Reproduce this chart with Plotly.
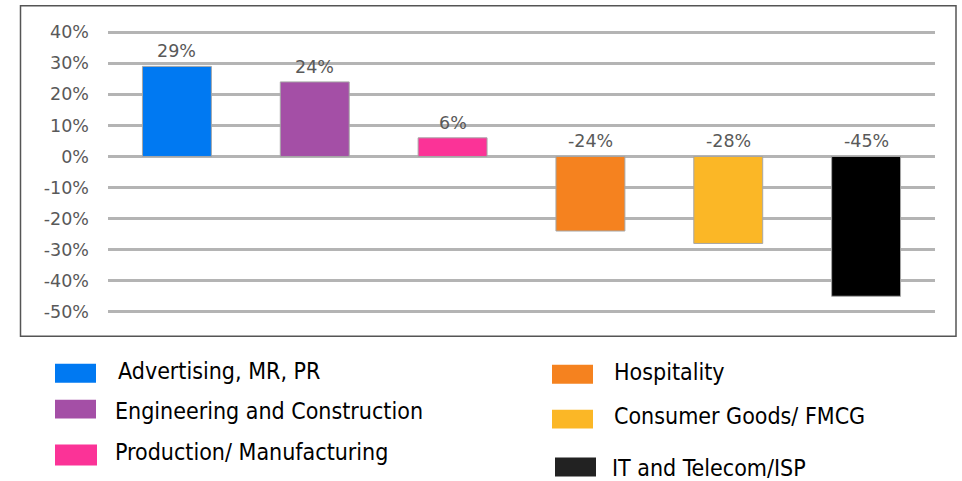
import plotly.graph_objects as go

categories = ["Advertising, MR, PR", "Engineering and Construction", "Production/ Manufacturing",
              "Hospitality", "Consumer Goods/ FMCG", "IT and Telecom/ISP"]
values = [0.29, 0.24, 0.06, -0.24, -0.28, -0.45]
bar_colors = ["#0079F2", "#A44FA6", "#FB3397", "#F5821F", "#FBB726", "#000000"]
legend_colors = ["#0079F2", "#A44FA6", "#FB3397", "#F5821F", "#FBB726", "#222222"]
tick_vals = [0.4, 0.3, 0.2, 0.1, 0.0, -0.1, -0.2, -0.3, -0.4, -0.5]
tick_text = ["40%", "30%", "20%", "10%", "0%", "-10%", "-20%", "-30%", "-40%", "-50%"]

W, H = 962, 481
Y_LO, Y_HI = -0.52, 0.42
UNIT = 280 / 0.9           # pixels per 1.0 on y
L = 108
R = W - 935
T = 32 - (Y_HI - 0.4) * UNIT
PH = (Y_HI - Y_LO) * UNIT
B = H - T - PH
PW = W - L - R

def px_x(p):
    return (p - L) / PW

def px_y(p):
    return (T + PH - p) / PH

fig = go.Figure()
fig.add_trace(go.Bar(
    x=list(range(len(categories))), y=values,
    marker=dict(color=bar_colors, line=dict(color="#a6a6a6", width=1)),
    hoverinfo="skip", showlegend=False,
))

annotations = []
for i, v in enumerate(values):
    annotations.append(dict(
        x=i, y=max(v, 0), xref="x", yref="y", text=f"{round(v*100)}%",
        showarrow=False, yanchor="bottom", yshift=3,
        font=dict(family="DejaVu Sans", size=17.5, color="#595959"),
    ))

shapes = [dict(type="rect", xref="paper", yref="paper",
               x0=px_x(20.5), x1=px_x(956), y0=px_y(336.5), y1=px_y(5.5),
               line=dict(color="#555555", width=1.5), fillcolor="rgba(0,0,0,0)", layer="below")]

# legend layout: (swatch x0, x1, y0, y1, text x, text y center) in reference pixels
legend_pos = [
    (55, 96, 364, 383, 116, 371),
    (55, 96, 400, 419, 113, 411),
    (55, 97, 445, 466, 113, 452),
    (552, 593, 365, 384, 612, 372),
    (552, 593, 410, 429, 612, 416),
    (555, 596, 458, 477, 610, 468),
]
for name, col, (sx0, sx1, sy0, sy1, tx, ty) in zip(categories, legend_colors, legend_pos):
    shapes.append(dict(type="rect", xref="paper", yref="paper",
                       x0=px_x(sx0), x1=px_x(sx1), y0=px_y(sy1), y1=px_y(sy0),
                       line=dict(width=0), fillcolor=col))
    annotations.append(dict(x=px_x(tx), y=px_y(ty), xref="paper", yref="paper",
                            text=name, showarrow=False, xanchor="left", yanchor="middle",
                            font=dict(family="DejaVu Sans Condensed, DejaVu Sans", size=23, color="#000000")))

fig.update_layout(
    width=W, height=H,
    margin=dict(l=L, r=R, t=T, b=B, pad=0),
    paper_bgcolor="white", plot_bgcolor="white",
    bargap=0.5,
    xaxis=dict(range=[-0.5, 5.5], showticklabels=False, showgrid=False, zeroline=False,
               showline=False, fixedrange=True),
    yaxis=dict(range=[Y_LO, Y_HI], tickvals=tick_vals, ticktext=tick_text,
               showgrid=True, gridcolor="#b4b4b4", gridwidth=3,
               zeroline=True, zerolinecolor="#b4b4b4", zerolinewidth=3,
               showline=False, ticklabelstandoff=18, fixedrange=True,
               tickfont=dict(family="DejaVu Sans", size=17.5, color="#595959")),
    shapes=shapes, annotations=annotations,
    showlegend=False,
)

fig.write_html("out.html", config={"displayModeBar": False},
               post_script="document.body.style.margin='0';document.body.style.overflow='hidden';")
